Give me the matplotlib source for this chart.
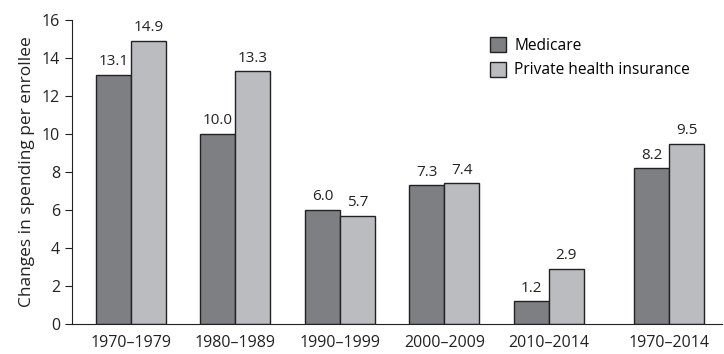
import numpy as np
import matplotlib.pyplot as plt

plt.rcParams['font.family'] = ['Open Sans', 'DejaVu Sans']

periods = ['1970\u20131979', '1980\u20131989', '1990\u20131999', '2000\u20132009', '2010\u20132014', '1970\u20132014']
medicare = [13.1, 10.0, 6.0, 7.3, 1.2, 8.2]
private = [14.9, 13.3, 5.7, 7.4, 2.9, 9.5]
positions = [0, 1, 2, 3, 4, 5.15]

fig = plt.figure(figsize=(7.24, 3.54), dpi=100)
ax = fig.add_axes([0.0994, 0.0847, 0.8976, 0.8588])

x = np.array(positions)
w = 0.335
b1 = ax.bar(x - w/2, medicare, w, color='#7e7f83', edgecolor='#222222', linewidth=1, label='Medicare')
b2 = ax.bar(x + w/2, private, w, color='#bbbcc0', edgecolor='#222222', linewidth=1, label='Private health insurance')

for bars, vals in [(b1, medicare), (b2, private)]:
    for r, v in zip(bars, vals):
        ax.text(r.get_x() + r.get_width()/2, v + 0.3, '%.1f' % v, ha='center', va='bottom', fontsize=11, color='#222222')

ax.set_xlim(-0.565, 5.655)
ax.set_ylim(0, 16)
ax.set_yticks(range(0, 17, 2))
ax.set_xticks(x)
ax.set_xticklabels(periods)
ax.tick_params(axis='x', length=0, pad=8, labelsize=11.5, colors='#222222')
ax.tick_params(axis='y', length=5, labelsize=11.5, colors='#222222')
ax.set_ylabel('Changes in spending per enrollee', fontsize=12.5, color='#222222', labelpad=5)
for s in ['top', 'right']:
    ax.spines[s].set_visible(False)
for s in ['left', 'bottom']:
    ax.spines[s].set_color('#222222')

ax.legend(loc='upper left', bbox_to_anchor=(0.622, 0.99), frameon=False, fontsize=11.2,
          handlelength=1.0, handleheight=1.1, handletextpad=0.55, labelspacing=0.5)

plt.savefig('out.png', dpi=100)
